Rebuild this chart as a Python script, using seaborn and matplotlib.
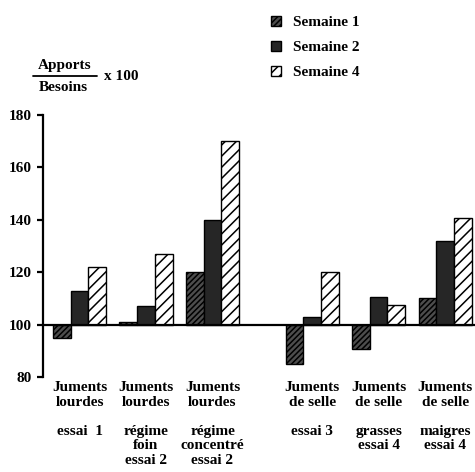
import matplotlib
matplotlib.use("Agg")
import matplotlib.pyplot as plt
import seaborn as sns
import pandas as pd
from matplotlib.lines import Line2D

# ---- data ----
groups = [
    "Juments\nlourdes\n\nessai  1",
    "Juments\nlourdes\n\nrégime\nfoin\nessai 2",
    "Juments\nlourdes\n\nrégime\nconcentré\nessai 2",
    "Juments\nde selle\n\nessai 3",
    "Juments\nde selle\n\ngrasses\nessai 4",
    "Juments\nde selle\n\nmaigres\nessai 4",
]
group_pos = [0, 1, 2, 3.5, 4.5, 5.5]
series = ["Semaine 1", "Semaine 2", "Semaine 4"]
semaine1 = [95, 101, 120, 85, 90.5, 110]
semaine2 = [113, 107, 140, 103, 110.5, 132]
semaine4 = [122, 127, 170, 120, 107.5, 140.5]
baseline = 100
yticks = [80, 100, 120, 140, 160, 180]

rows = []
for s, vals in zip(series, [semaine1, semaine2, semaine4]):
    for p, v in zip(group_pos, vals):
        rows.append({"pos": p, "serie": s, "delta": v - baseline})
df = pd.DataFrame(rows)

sns.set_theme(style="white")
FONT = "Liberation Serif"
plt.rcParams["font.family"] = [FONT, "DejaVu Serif"]
plt.rcParams["font.weight"] = "bold"
plt.rcParams["hatch.linewidth"] = 1.1
plt.rcParams["text.color"] = "black"
plt.rcParams["xtick.color"] = "black"
plt.rcParams["ytick.color"] = "black"
plt.rcParams["xtick.labelcolor"] = "black"
plt.rcParams["ytick.labelcolor"] = "black"

fig = plt.figure(figsize=(4.75, 4.72), dpi=100)
ax = fig.add_axes([43 / 475, 1 - 377 / 472, 1 - 43 / 475, (377 - 115) / 472])

palette = {"Semaine 1": "#4d4d4d", "Semaine 2": "#262626", "Semaine 4": "white"}
sns.barplot(data=df, x="pos", y="delta", hue="serie", hue_order=series,
            native_scale=True, palette=palette, errorbar=None, legend=False,
            width=0.8, bottom=baseline, edgecolor="black", linewidth=1.0,
            ax=ax, zorder=3)

hatches = ["//////", "", "///"]
for cont, h in zip(ax.containers, hatches):
    for patch in cont.patches:
        patch.set_hatch(h)
        patch.set_edgecolor("black")

ax.axhline(baseline, color="black", lw=1.6, zorder=4)

ax.set_xlim(-0.55, 5.95)
ax.set_ylim(80, 180)
ax.set_yticks(yticks)
ax.set_yticklabels([str(t) for t in yticks], fontsize=11, fontweight="bold", color="black")
ax.set_xticks(group_pos)
ax.set_xticklabels(groups, fontsize=11, fontweight="bold", linespacing=1.15, color="black")
ax.tick_params(axis="x", length=0, pad=3)
ax.tick_params(axis="y", length=4, width=1.6, direction="out", pad=4, left=True, colors="black")
ax.set_xlabel("")
ax.set_ylabel("")
for side in ["top", "right", "bottom"]:
    ax.spines[side].set_visible(False)
ax.spines["left"].set_linewidth(1.6)
ax.spines["left"].set_color("black")
ax.set_facecolor("white")
fig.patch.set_facecolor("white")

# y label as fraction
fig.text(65 / 475, 1 - 66 / 472, "Apports", ha="center", va="center", fontsize=11, fontweight="bold")
fig.text(63 / 475, 1 - 87 / 472, "Besoins", ha="center", va="center", fontsize=11, fontweight="bold")
fig.add_artist(Line2D([33 / 475, 97 / 475], [1 - 76 / 472, 1 - 76 / 472],
                      transform=fig.transFigure, color="black", lw=1.3))
fig.text(104 / 475, 1 - 77 / 472, "x 100", ha="left", va="center", fontsize=11, fontweight="bold")

handles = [cont.patches[0] for cont in ax.containers]
leg = fig.legend(handles, series, loc="upper left",
                 bbox_to_anchor=(257 / 475, 1 - 2 / 472), frameon=False,
                 handlelength=0.65, handleheight=0.65, handletextpad=0.8,
                 labelspacing=0.75, prop={"family": FONT, "weight": "bold", "size": 11})
for t in leg.get_texts():
    t.set_color("black")

fig.savefig("out.png", dpi=100)
